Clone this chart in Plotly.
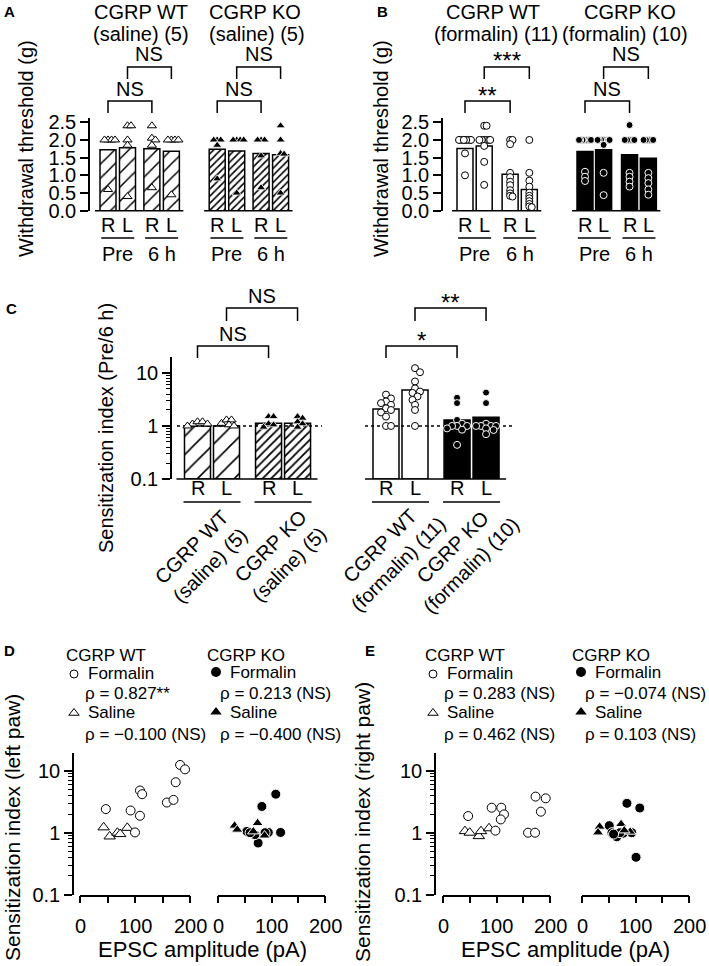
import numpy as np
import plotly.graph_objects as go

W, H = 709, 966
FONT = "Liberation Sans, Arial, Helvetica, sans-serif"

# ===================== DATA =====================
side_labels = ["R", "L"]
time_labels = ["Pre", "6 h"]
a_titles = [["CGRP WT", "(saline) (5)"], ["CGRP KO", "(saline) (5)"]]
b_titles = [["CGRP WT", "(formalin) (11)"], ["CGRP KO", "(formalin) (10)"]]
c_groups = ["CGRP WT<br>(saline) (5)", "CGRP KO<br>(saline) (5)",
            "CGRP WT<br>(formalin) (11)", "CGRP KO<br>(formalin) (10)"]
thr_ticks = [0.0, 0.5, 1.0, 1.5, 2.0, 2.5]
log_ticks = [0.1, 1, 10]
epsc_major = [0, 100, 200]
epsc_minor = [50, 150]

# Panel A (saline) withdrawal threshold, order: R-Pre, L-Pre, R-6h, L-6h
a_wt_mean = [1.72, 1.78, 1.75, 1.68]
a_ko_mean = [1.74, 1.69, 1.62, 1.58]
a_wt_pts = [[2.0, 2.0, 2.0, 2.0, 0.6],
            [2.4, 2.4, 2.0, 1.85, 0.4],
            [2.4, 2.05, 2.0, 1.85, 0.65],
            [2.0, 2.0, 2.0, 2.0, 0.45]]
a_ko_pts = [[2.0, 2.0, 2.0, 1.85, 0.9],
            [2.0, 2.0, 2.0, 2.0, 0.5],
            [2.0, 2.0, 2.0, 1.55, 0.65],
            [2.4, 2.0, 1.62, 1.6, 0.5]]

# Panel B (formalin)
b_wt_mean = [1.76, 1.83, 1.03, 0.60]
b_ko_mean = [1.67, 1.72, 1.58, 1.48]
b_wt_pts = [[2.0, 2.0, 2.0, 2.0, 2.0, 2.0, 2.0, 2.0, 2.0, 1.62, 1.0],
            [2.4, 2.4, 2.0, 2.0, 2.0, 2.0, 2.0, 2.0, 1.83, 1.38, 0.73],
            [2.0, 2.0, 1.88, 1.07, 0.95, 0.82, 0.72, 0.58, 0.49, 0.42, 0.4],
            [2.0, 1.07, 0.85, 0.68, 0.51, 0.42, 0.35, 0.27, 0.19, 0.12, 0.1]]
b_ko_pts = [[2.0, 2.0, 2.0, 2.0, 2.0, 2.0, 2.0, 1.1, 0.96, 0.84],
            [2.0, 2.0, 2.0, 2.0, 2.0, 2.0, 1.86, 1.07, 0.44, 2.0],
            [2.42, 2.0, 2.0, 2.0, 2.0, 2.0, 1.07, 0.96, 0.82, 0.68],
            [2.0, 2.0, 2.0, 2.0, 2.0, 1.07, 0.92, 0.78, 0.6, 0.45]]

# Panel C sensitization index (Pre/6 h), order: WT-sal R, L, KO-sal R, L, WT-for R, L, KO-for R, L
c_mean = [1.0, 1.0, 1.12, 1.12, 2.09, 4.77, 1.30, 1.46]
c_pts = [[1.09, 1.2, 1.2, 1.09, 1.0],
         [1.12, 1.3, 1.3, 1.05, 1.0],
         [1.5, 1.5, 1.1, 1.05, 0.95],
         [1.5, 1.4, 1.2, 1.1, 0.95],
         [3.9, 3.3, 2.9, 2.7, 2.5, 2.15, 2.0, 1.8, 1.5, 1.0, 1.0],
         [12.3, 10.3, 6.9, 5.1, 4.45, 4.2, 3.6, 3.1, 2.5, 2.0, 1.0],
         [3.4, 2.7, 1.3, 1.1, 1.0, 1.0, 1.0, 0.9, 0.85, 0.44],
         [4.25, 2.7, 1.1, 1.0, 1.0, 1.0, 1.0, 0.9, 0.84, 0.7]]

sig_a = [["NS", "NS"], ["NS", "NS"]]
sig_b = [["**", "***"], ["NS", "NS"]]
sig_c = [["NS", "NS"], ["*", "**"]]

# Panel D (left paw) EPSC amplitude (pA) vs sensitization index
d_wt_for_x = [47, 92, 109, 100, 109, 113, 158, 170, 174, 182, 191]
d_wt_for_y = [2.41, 2.29, 1.88, 1.01, 4.82, 4.2, 3.08, 3.4, 6.56, 12.5, 10.6]
d_wt_sal_x = [43, 54, 68, 73, 86]
d_wt_sal_y = [1.22, 0.87, 1.0, 0.95, 1.2]
d_ko_for_x = [82, 108, 117, 75, 54, 65, 94, 88, 69, 60]
d_ko_for_y = [2.66, 4.2, 1.01, 0.68, 1.05, 0.99, 1.01, 1.0, 0.93, 1.0]
d_ko_sal_x = [31, 36, 74, 87, 66]
d_ko_sal_y = [1.3, 1.12, 1.43, 0.9, 1.05]
d_rho = ["ρ = 0.827**", "ρ = −0.100 (NS)", "ρ = 0.213 (NS)", "ρ = −0.400 (NS)"]

# Panel E (right paw)
e_wt_for_x = [47, 91, 109, 114, 108, 98, 159, 172, 173, 192, 183]
e_wt_for_y = [1.86, 2.54, 2.54, 1.98, 1.64, 1.08, 1.0, 1.0, 3.84, 3.6, 2.19]
e_wt_sal_x = [41, 50, 67, 71, 86]
e_wt_sal_y = [1.06, 1.0, 0.88, 1.06, 1.18]
e_ko_for_x = [84, 108, 101, 51, 56, 65, 77, 93, 71, 59]
e_ko_for_y = [2.99, 2.51, 0.40, 1.3, 1.0, 0.86, 0.98, 1.0, 1.0, 0.95]
e_ko_sal_x = [33, 30, 73, 90, 79]
e_ko_sal_y = [1.25, 1.01, 1.38, 1.04, 1.09]
e_rho = ["ρ = 0.283 (NS)", "ρ = 0.462 (NS)", "ρ = −0.074 (NS)", "ρ = 0.103 (NS)"]

# ===================== HELPERS =====================
def PX(x):
    return x / W


def PY(y):
    return 1 - y / H


fig = go.Figure()
ann = []
shp = []
lay = {}


def T(x, y, text, size=20, xa="center", ya="middle", angle=0):
    ann.append(dict(x=x, y=y, xref="x8", yref="y6", text=text, showarrow=False,
                    xanchor=xa, yanchor=ya, textangle=angle,
                    font=dict(family=FONT, size=size, color="black")))


def L(x0, y0, x1, y1, w=1.5):
    shp.append(dict(type="line", xref="x8", yref="y6", x0=x0, y0=y0, x1=x1, y1=y1,
                    line=dict(color="black", width=w)))


def bracket(xa, xb, ytop, yleg, w=1.5):
    shp.append(dict(type="path", xref="x8", yref="y6",
                    path=f"M {xa},{yleg} L {xa},{ytop} L {xb},{ytop} L {xb},{yleg}",
                    line=dict(color="black", width=w)))


def xpx(g, s):
    return g["c0"] + s * g["pitch"]


def ypx(g, v):
    lo, hi = g["yr"]
    vv = np.log10(v) if g["log"] else v
    return g["yb"] - (vv - lo) / (hi - lo) * (g["yb"] - g["yt"])


def swarm(vals, g, d, maxoff):
    ys = [ypx(g, v) for v in vals]
    order = sorted(range(len(vals)), key=lambda i: ys[i])
    step = d / 2.0
    cands = [0.0]
    k = 1
    while k * step <= maxoff + 1e-9:
        cands += [k * step, -k * step]
        k += 1
    placed = []
    offs = [0.0] * len(vals)
    for i in order:
        best, bestd = 0.0, -1
        for c in cands:
            md = min([np.hypot(c - a, ys[i] - b) for a, b in placed], default=1e9)
            if md >= d:
                best = c
                break
            if md > bestd:
                bestd, best = md, c
        offs[i] = best
        placed.append((best, ys[i]))
    return offs


def bar_panel(xid, yid, g, means, pts, bar_styles, mk_styles, dsw):
    n = len(means)
    for i in range(n):
        s = g["slots"][i]
        kw = {}
        yv = means[i]
        if g["log"]:
            kw["base"] = 0.1
            yv = means[i] - 0.1
        fig.add_trace(go.Bar(x=[s], y=[yv], width=g["bw"] / g["pitch"], marker=bar_styles[i],
                             xaxis=xid, yaxis=yid, showlegend=False, hoverinfo="skip", **kw))
    if g.get("dash_segments"):
        xs, ys = [], []
        for a, b in g["dash_segments"]:
            xs += [(a - g["c0"]) / g["pitch"], (b - g["c0"]) / g["pitch"], None]
            ys += [1, 1, None]
        fig.add_trace(go.Scatter(x=xs, y=ys, mode="lines", line=dict(color="black", width=1.5, dash="3px,3px"),
                                 xaxis=xid, yaxis=yid, showlegend=False, hoverinfo="skip"))
    for i in range(n):
        s = g["slots"][i]
        offs = swarm(pts[i], g, dsw, g["bw"] / 2 - 1)
        fig.add_trace(go.Scatter(x=[s + o / g["pitch"] for o in offs], y=pts[i], mode="markers",
                                 marker=mk_styles[i], xaxis=xid, yaxis=yid, cliponaxis=False,
                                 showlegend=False, hoverinfo="skip"))
    lay[("xaxis" + xid[1:]) if xid != "x" else "xaxis"] = dict(
        domain=[PX(g["xl"]), PX(g["xr"])],
        range=[(g["xl"] - g["c0"]) / g["pitch"], (g["xr"] - g["c0"]) / g["pitch"]],
        visible=False, anchor=yid, showgrid=False, zeroline=False)


def yaxis_common():
    return dict(showline=True, linecolor="black", linewidth=1.5, ticks="outside", ticklen=8,
                tickwidth=1.5, tickcolor="black", showgrid=False, zeroline=False,
                tickfont=dict(family=FONT, size=20, color="black"))


minor_vals = [k * 10.0 ** e for e in (-1, 0, 1) for k in range(2, 10)]


def log_yaxis(dom_top, dom_bot, top_log):
    d = yaxis_common()
    d.update(type="log", range=[-1, top_log], domain=[PY(dom_bot), PY(dom_top)],
             tickmode="array", tickvals=log_ticks, ticktext=["0.1", "1", "10"],
             minor=dict(tickmode="array", tickvals=minor_vals, ticks="outside", ticklen=4,
                        tickwidth=1, tickcolor="black", showgrid=False))
    return d


# ---------- styles ----------
def hatch(size, sol):
    return dict(color="white", line=dict(color="black", width=1.5),
                pattern=dict(shape="/", fgcolor="black", bgcolor="white", size=size, solidity=sol))


plain_white = dict(color="white", line=dict(color="black", width=1.5))
plain_black = dict(color="black", line=dict(color="black", width=1.5))
tri_open = dict(symbol="triangle-up", size=8, color="white", line=dict(color="black", width=1))
tri_fill = dict(symbol="triangle-up", size=8, color="black", line=dict(color="white", width=0.8))
cir_open = dict(symbol="circle", size=7, color="white", line=dict(color="black", width=1))
cir_fill = dict(symbol="circle", size=7, color="black", line=dict(color="white", width=1))

# ===================== PANEL A =====================
gA = dict(xl=90, xr=295, yt=118, yb=210.7, c0=108, pitch=19.5,
          slots=[0, 1, 2.25, 3.25, 5.6, 6.6, 7.85, 8.85], bw=16, yr=[0, 2.62], log=False)
bar_panel("x", "y", gA, a_wt_mean + a_ko_mean, a_wt_pts + a_ko_pts,
          [hatch(10, 0.15)] * 4 + [hatch(5, 0.32)] * 4, [tri_open] * 4 + [tri_fill] * 4, 3.5)
ya = yaxis_common()
ya.update(domain=[PY(gA["yb"]), PY(gA["yt"])], range=gA["yr"], anchor="x",
          tickmode="array", tickvals=thr_ticks, ticktext=[f"{v:.1f}" for v in thr_ticks])
lay["yaxis"] = ya

# ===================== PANEL B =====================
gB = dict(xl=443, xr=662, yt=118, yb=210.7, c0=465, pitch=19.2,
          slots=[0, 1, 2.35, 3.35, 6.25, 7.22, 8.57, 9.55], bw=16, yr=[0, 2.62], log=False)
bar_panel("x2", "y2", gB, b_wt_mean + b_ko_mean, b_wt_pts + b_ko_pts,
          [plain_white] * 4 + [plain_black] * 4, [cir_open] * 4 + [cir_fill] * 4, 2.4)
yb = yaxis_common()
yb.update(domain=[PY(gB["yb"]), PY(gB["yt"])], range=gB["yr"], anchor="x2",
          tickmode="array", tickvals=thr_ticks, ticktext=[f"{v:.1f}" for v in thr_ticks])
lay["yaxis2"] = yb

# decorations A and B
for g, titles, sigs, title_x, ytx in [
        (gA, a_titles, sig_a, [(140.5, 140.5), (255, 257)], 26),
        (gB, b_titles, sig_b, [(492.5, 496), (630, 625)], 381)]:
    for gi in range(2):
        sl = g["slots"][4 * gi:4 * gi + 4]
        cx = [xpx(g, s) for s in sl]
        T(title_x[gi][0], 12, titles[gi][0])
        T(title_x[gi][1], 34, titles[gi][1])
        # baseline
        L(cx[0] - g["bw"] / 2 - 5, g["yb"], cx[3] + g["bw"] / 2 + 4, g["yb"])
        for j in range(4):
            T(cx[j], 225, side_labels[j % 2])
        for p in range(2):
            mid = (cx[2 * p] + cx[2 * p + 1]) / 2
            L(mid - 16.5, 238, mid + 16.5, 238)
            T(mid, 254, time_labels[p])
        # brackets
        bracket(cx[0], cx[2], 101, 113)
        bracket(cx[1], cx[3], 67, 79)
        for k, (xa_, xb_, yl) in enumerate([(cx[0], cx[2], 89), (cx[1], cx[3], 54)]):
            s = sigs[gi][k]
            if s.startswith("*"):
                T((xa_ + xb_) / 2, yl + 6, s, size=24)
            else:
                T((xa_ + xb_) / 2, yl, s)
    T(ytx, 149, "Withdrawal threshold (g)", angle=-90)

# ===================== PANEL C =====================
gC = dict(xl=172, xr=515, yt=357, yb=479, c0=197.5, pitch=29,
          slots=[0, 1, 2.45, 3.45, 6.5, 7.5, 8.95, 9.95], bw=26, yr=[-1, 1.30], log=True,
          dash_segments=[(177, 322), (365, 513)])
bar_panel("x3", "y3", gC, c_mean, c_pts,
          [hatch(13, 0.12)] * 2 + [hatch(6, 0.3)] * 2 + [plain_white] * 2 + [plain_black] * 2,
          [tri_open] * 2 + [tri_fill] * 2 + [cir_open] * 2 + [cir_fill] * 2, 5.0)
lay["yaxis3"] = log_yaxis(357, 479, 1.30)
lay["yaxis3"]["anchor"] = "x3"

cxC = [xpx(gC, s) for s in gC["slots"]]
for half in range(2):
    c = cxC[4 * half:4 * half + 4]
    L(c[0] - 13 - 8, 479, c[3] + 13 + 7, 479)
    bracket(c[0], c[2], 346, 358)
    bracket(c[1], c[3], 308, 321)
    for k, (xa_, xb_, yl) in enumerate([(c[0], c[2], 334), (c[1], c[3], 296)]):
        s = sig_c[half][k]
        if s.startswith("*"):
            T((xa_ + xb_) / 2, yl + 6, s, size=24)
        else:
            T((xa_ + xb_) / 2, yl, s)
for j in range(8):
    T(cxC[j], 488, side_labels[j % 2])
label_centers = [(201, 556), (280, 555), (389, 555), (462, 556)]
for p in range(4):
    mid = (cxC[2 * p] + cxC[2 * p + 1]) / 2
    L(mid - 28.5, 502, mid + 28.5, 502)
    T(label_centers[p][0], label_centers[p][1], c_groups[p], angle=-45)
T(106, 428, "Sensitization index (Pre/6 h)", angle=-90)

# ===================== PANELS D and E =====================
def scatter_panel(xl_id, xr_id, y_id, ydom, yline_x, xl_dom, xr_dom, data):
    (wfx, wfy, wsx, wsy, kfx, kfy, ksx, ksy) = data
    big_open_c = dict(symbol="circle", size=9, color="white", line=dict(color="black", width=1))
    big_open_t = dict(symbol="triangle-up", size=10, color="white", line=dict(color="black", width=1))
    big_fill_c = dict(symbol="circle", size=10, color="black", line=dict(color="white", width=1))
    big_fill_t = dict(symbol="triangle-up", size=10, color="black", line=dict(color="white", width=1))
    for xs, ys, xid, mk in [(wsx, wsy, xl_id, big_open_t), (wfx, wfy, xl_id, big_open_c),
                            (kfx, kfy, xr_id, big_fill_c), (ksx, ksy, xr_id, big_fill_t)]:
        fig.add_trace(go.Scatter(x=xs, y=ys, mode="markers", marker=mk, xaxis=xid, yaxis=y_id,
                                 cliponaxis=False, showlegend=False, hoverinfo="skip"))
    yd = log_yaxis(ydom[0], ydom[1], 1.29)
    yd.update(anchor="free", position=PX(yline_x))
    lay["yaxis" + y_id[1:]] = yd
    for xid, dom in [(xl_id, xl_dom), (xr_id, xr_dom)]:
        lay["xaxis" + xid[1:]] = dict(domain=[PX(dom[0]), PX(dom[1])], range=[0, 200], anchor=y_id,
                                      showline=True, linecolor="black", linewidth=1.5,
                                      ticks="outside", ticklen=7, tickwidth=1.5, tickcolor="black",
                                      tickmode="array", tickvals=epsc_major, showticklabels=False,
                                      minor=dict(tickmode="array", tickvals=epsc_minor, ticks="outside",
                                                 ticklen=7, tickwidth=1.5, tickcolor="black",
                                                 showgrid=False),
                                      showgrid=False, zeroline=False)
        # tick labels: position derived from this axis' domain and range
        for v in epsc_major:
            T(dom[0] + (v - 0) / 200.0 * (dom[1] - dom[0]), 926, f"{v:d}", size=20)


scatter_panel("x4", "x5", "y4", (753, 894.5), 73, (80, 190), (218, 325),
              (d_wt_for_x, d_wt_for_y, d_wt_sal_x, d_wt_sal_y, d_ko_for_x, d_ko_for_y, d_ko_sal_x, d_ko_sal_y))
scatter_panel("x6", "x7", "y5", (753, 894.5), 435, (443, 550), (582, 689),
              (e_wt_for_x, e_wt_for_y, e_wt_sal_x, e_wt_sal_y, e_ko_for_x, e_ko_for_y, e_ko_sal_x, e_ko_sal_y))

T(12, 828, "Sensitization index (left paw)", size=21, angle=-90)
T(362, 822, "Sensitization index (right paw)", size=21, angle=-90)
T(202, 949, "EPSC amplitude (pA)", size=22)
T(565, 949, "EPSC amplitude (pA)", size=22)

# legends of D and E (drawn on overlay pixel axes)
LS = 17
for (wx, kx, rho) in [(64, 205, d_rho), (423, 570, e_rho)]:
    T(wx, 655, "CGRP WT", size=LS, xa="left")
    T(wx + 22, 673, "Formalin", size=LS, xa="left")
    T(wx + 19, 693, rho[0], size=LS, xa="left")
    T(wx + 22, 712, "Saline", size=LS, xa="left")
    T(wx + 19, 734, rho[1], size=LS, xa="left")
    T(kx, 655, "CGRP KO", size=LS, xa="left")
    T(kx + 23, 672, "Formalin", size=LS, xa="left")
    T(kx + 13, 693, rho[2], size=LS, xa="left")
    T(kx + 23, 712, "Saline", size=LS, xa="left")
    T(kx + 13, 734, rho[3], size=LS, xa="left")
    fig.add_trace(go.Scatter(x=[wx + 10], y=[674], mode="markers", xaxis="x8", yaxis="y6",
                             marker=dict(symbol="circle", size=8, color="white", line=dict(color="black", width=1)),
                             showlegend=False, hoverinfo="skip", cliponaxis=False))
    fig.add_trace(go.Scatter(x=[wx + 10], y=[713], mode="markers", xaxis="x8", yaxis="y6",
                             marker=dict(symbol="triangle-up", size=9, color="white", line=dict(color="black", width=1)),
                             showlegend=False, hoverinfo="skip", cliponaxis=False))
    fig.add_trace(go.Scatter(x=[kx + 11], y=[672], mode="markers", xaxis="x8", yaxis="y6",
                             marker=dict(symbol="circle", size=10, color="black"),
                             showlegend=False, hoverinfo="skip", cliponaxis=False))
    fig.add_trace(go.Scatter(x=[kx + 11], y=[712], mode="markers", xaxis="x8", yaxis="y6",
                             marker=dict(symbol="triangle-up", size=10, color="black"),
                             showlegend=False, hoverinfo="skip", cliponaxis=False))

# panel letters
for letter, x, y in [("A", 9, 11), ("B", 382, 11), ("C", 11, 308), ("D", 9, 650), ("E", 370, 650)]:
    T(x, y, f"<b>{letter}</b>", size=15)

# overlay pixel axes
lay["xaxis8"] = dict(domain=[0, 1], range=[0, W], visible=False, anchor="y6", fixedrange=True)
lay["yaxis6"] = dict(domain=[0, 1], range=[H, 0], visible=False, anchor="x8", fixedrange=True)

fig.update_layout(width=W, height=H, margin=dict(l=0, r=0, t=0, b=0), autosize=False,
                  paper_bgcolor="white", plot_bgcolor="rgba(0,0,0,0)", template="none",
                  showlegend=False, barmode="overlay",
                  font=dict(family=FONT, size=20, color="black"),
                  annotations=ann, shapes=shp, **lay)
fig.write_html("out.html", config={"displayModeBar": False},
               post_script="document.body.style.margin='0';document.body.style.padding='0';"
                           "document.body.style.overflow='hidden';")
